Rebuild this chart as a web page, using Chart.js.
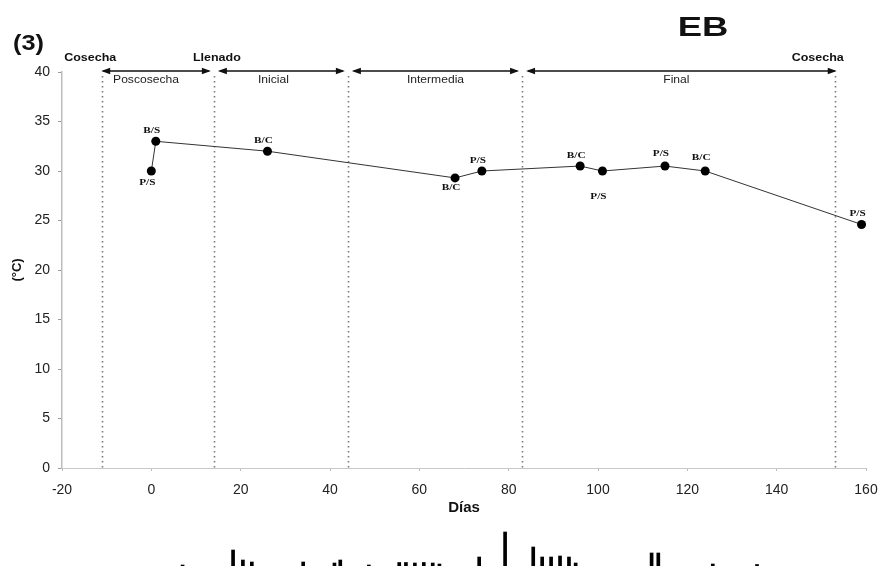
<!DOCTYPE html>
<html>
<head>
<meta charset="utf-8">
<script src="https://cdn.jsdelivr.net/npm/chart.js@4.4.1/dist/chart.umd.min.js"></script>
<style>
  html, body { margin: 0; padding: 0; background: #fff; }
  #wrap { position: relative; width: 889px; height: 571px; overflow: hidden; }
  #wrap canvas { position: absolute; left: 0; }
</style>
</head>
<body>
<div id="wrap">
  <canvas id="temp" width="889" height="571" style="top:0"></canvas>
  <canvas id="rain" width="889" height="71" style="top:500px"></canvas>
</div>
<script>
// Temperatura (°C) por día, con el tipo de muestra en cada punto
const dias = [0, 1, 26, 68, 74, 96, 101, 115, 124, 159];
const temperatura = [30, 33, 32, 29.3, 30, 30.5, 30, 30.5, 30, 24.6];
const muestras = ['P/S', 'B/S', 'B/C', 'B/C', 'P/S', 'B/C', 'P/S', 'P/S', 'B/C', 'P/S'];

// Ejes
const ticksX = [-20, 0, 20, 40, 60, 80, 100, 120, 140, 160];
const ticksY = [0, 5, 10, 15, 20, 25, 30, 35, 40];

// Etapas del cultivo
const limitesEtapa = [-11, 14, 44, 83, 153];
const etapas = ['Poscosecha', 'Inicial', 'Intermedia', 'Final'];
const diasEvento = [-11, 14, 153];
const eventos = ['Cosecha', 'Llenado', 'Cosecha'];

// Precipitación diaria (mm)
const diasLluvia = [7, 18.3, 20.5, 22.5, 34, 41, 42.3, 48.7, 55.5, 57, 59, 61, 63, 64.5, 73.4, 79.2, 85.5, 87.5, 89.5, 91.5, 93.5, 95, 112, 113.5, 125.7, 135.6];
const lluvia = [1, 16, 6, 4, 4, 3, 6, 1, 3.5, 3.5, 3, 3.5, 3, 2, 9, 34, 19, 9, 9, 10, 9, 3, 13, 13, 2, 1.5];

const SANS = '"Liberation Sans", Arial, sans-serif';
const SERIF = '"Liberation Serif", "Times New Roman", serif';

// Desplazamiento vertical (px) de cada etiqueta respecto a su punto
const desplazEtiqueta = [12, -11, -11, 10, -10, -10, 26, -12, -13, -11];

// Texto ensanchado horizontalmente
function textoAncho(ctx, txt, x, y, factor) {
  ctx.save();
  ctx.translate(x, y);
  ctx.scale(factor, 1);
  ctx.fillText(txt, 0, 0);
  ctx.restore();
}

function flecha(ctx, x1, x2, y) {
  const L = 9, H = 3.2;
  ctx.beginPath();
  ctx.moveTo(x1 + 2, y);
  ctx.lineTo(x2 - 2, y);
  ctx.stroke();
  ctx.beginPath();
  ctx.moveTo(x1, y); ctx.lineTo(x1 + L, y - H); ctx.lineTo(x1 + L, y + H); ctx.closePath();
  ctx.fill();
  ctx.beginPath();
  ctx.moveTo(x2, y); ctx.lineTo(x2 - L, y - H); ctx.lineTo(x2 - L, y + H); ctx.closePath();
  ctx.fill();
}

const etapasPlugin = {
  id: 'etapas',
  beforeDatasetsDraw(chart) {
    const { ctx, scales: { x, y } } = chart;
    const yTop = y.getPixelForValue(40);
    const yBot = y.getPixelForValue(0);
    ctx.save();
    // líneas punteadas de cada límite de etapa
    ctx.strokeStyle = '#7a7a7a';
    ctx.lineWidth = 1.6;
    ctx.setLineDash([1.5, 3.5]);
    limitesEtapa.forEach(d => {
      const px = Math.round(x.getPixelForValue(d)) + 0.5;
      ctx.beginPath();
      ctx.moveTo(px, yTop + 4);
      ctx.lineTo(px, yBot);
      ctx.stroke();
    });
    ctx.setLineDash([]);
    // flechas y nombres de etapa
    ctx.strokeStyle = '#111';
    ctx.lineWidth = 1.5;
    const yFl = yTop - 1;
    const ajusteTexto = [-10, -8, 0, -5];
    ctx.textAlign = 'center';
    ctx.textBaseline = 'middle';
    for (let i = 0; i < etapas.length; i++) {
      const a = x.getPixelForValue(limitesEtapa[i]) + (i === 0 ? -1 : 4);
      const b = x.getPixelForValue(limitesEtapa[i + 1]) - (i === 3 ? -2 : 3);
      ctx.fillStyle = '#111';
      flecha(ctx, a, b, yFl);
      ctx.font = '11px ' + SANS;
      ctx.fillStyle = '#222';
      textoAncho(ctx, etapas[i], (a + b) / 2 + ajusteTexto[i], yFl + 9, 1.1);
    }
    // eventos sobre las flechas
    const ajusteEvento = [-12, 3, -17];
    ctx.fillStyle = '#111';
    ctx.font = 'bold 10px ' + SANS;
    diasEvento.forEach((d, i) => {
      textoAncho(ctx, eventos[i], x.getPixelForValue(d) + ajusteEvento[i], yTop - 14, 1.25);
    });
    ctx.restore();
  },
  afterDraw(chart) {
    const { ctx } = chart;
    const meta = chart.getDatasetMeta(0);
    ctx.save();
    ctx.fillStyle = '#111';
    ctx.textAlign = 'center';
    ctx.textBaseline = 'middle';
    ctx.font = 'bold 9px ' + SERIF;
    meta.data.forEach((pt, i) => {
      textoAncho(ctx, muestras[i], pt.x - 4, pt.y + desplazEtiqueta[i], 1.25);
    });
    ctx.font = 'bold 22px ' + SANS;
    ctx.textAlign = 'left';
    textoAncho(ctx, '(3)', 13, 44, 1.15);
    ctx.font = 'bold 28px ' + SANS;
    ctx.textAlign = 'center';
    textoAncho(ctx, 'EB', 703, 28, 1.3);
    ctx.restore();
  }
};

new Chart(document.getElementById('temp'), {
  type: 'scatter',
  data: {
    datasets: [{
      data: dias.map((d, i) => ({ x: d, y: temperatura[i] })),
      showLine: true,
      borderColor: '#333',
      borderWidth: 1,
      pointRadius: 4.5,
      pointHoverRadius: 4.5,
      pointBackgroundColor: '#000',
      pointBorderColor: '#000',
      pointBorderWidth: 0
    }]
  },
  options: {
    responsive: false,
    animation: false,
    devicePixelRatio: 1,
    layout: { padding: { top: 72, right: 23, bottom: 43, left: 0 } },
    plugins: { legend: { display: false }, tooltip: { enabled: false } },
    scales: {
      x: {
        type: 'linear',
        min: -20, max: 160,
        afterBuildTicks: s => { s.ticks = ticksX.map(v => ({ value: v })); },
        afterFit: s => { s.height = 60; },
        grid: { display: true, drawOnChartArea: false, drawTicks: true, tickLength: 3, color: '#bbb' },
        border: { display: true, color: '#c8c8c8', width: 1, dash: [6, 3] },
        ticks: { color: '#222', font: { family: SANS, size: 14 }, padding: 11, maxRotation: 0 },
        title: { display: true, text: 'Días', color: '#111', font: { family: SANS, size: 15, weight: 'bold' }, padding: { top: 0, bottom: 11 } }
      },
      y: {
        min: 0, max: 40,
        afterBuildTicks: s => { s.ticks = ticksY.map(v => ({ value: v })); },
        afterFit: s => { s.width = 62; },
        grid: { display: true, drawOnChartArea: false, drawTicks: true, tickLength: 4, color: '#999' },
        border: { display: true, color: '#bdbdbd', width: 1.5 },
        ticks: { color: '#222', font: { family: SANS, size: 14 }, padding: 8 },
        title: { display: true, text: '(°C)', color: '#111', font: { family: SANS, size: 13, weight: 'bold' }, padding: { top: 10, bottom: 0 } }
      }
    }
  },
  plugins: [etapasPlugin]
});

new Chart(document.getElementById('rain'), {
  type: 'bar',
  data: {
    datasets: [{
      data: diasLluvia.map((d, i) => ({ x: d, y: lluvia[i] })),
      backgroundColor: '#000',
      barThickness: 3,
      grouped: false
    }]
  },
  options: {
    responsive: false,
    animation: false,
    devicePixelRatio: 1,
    layout: { padding: { top: 6, right: 23, bottom: 5, left: 62 } },
    plugins: { legend: { display: false }, tooltip: { enabled: false } },
    scales: {
      x: { type: 'linear', min: -20, max: 160, offset: false, display: false },
      y: { min: 0, max: 60, display: false }
    }
  }
});
</script>
</body>
</html>
